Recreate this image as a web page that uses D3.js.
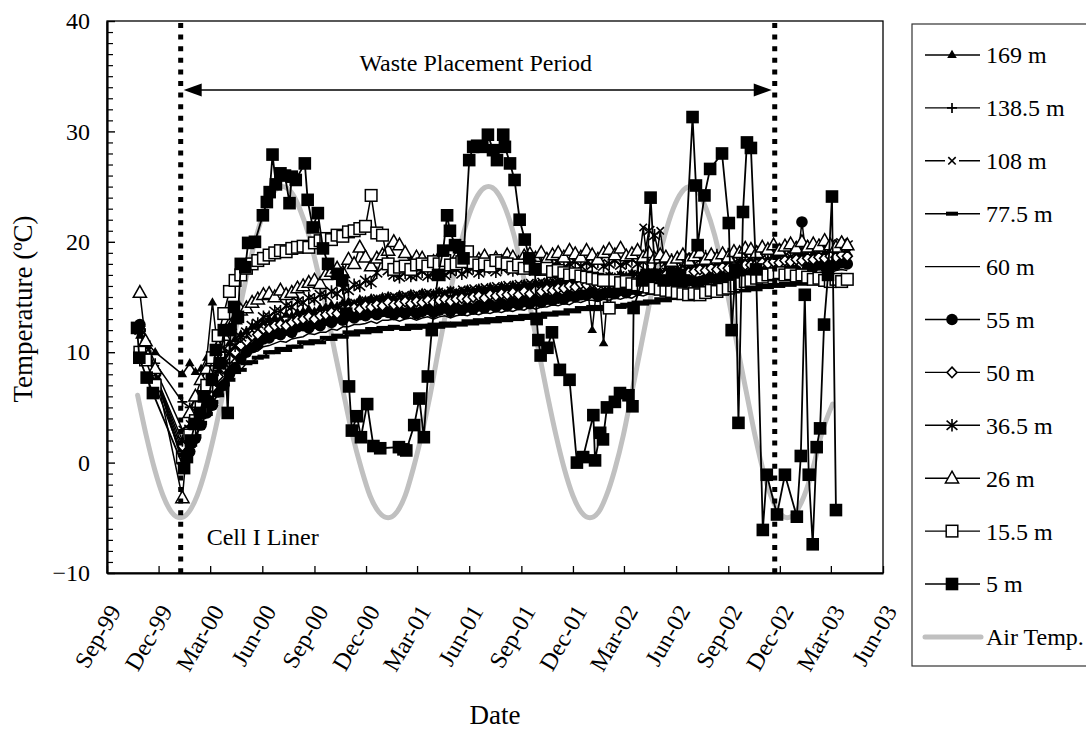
<!DOCTYPE html>
<html><head><meta charset="utf-8">
<script src="https://cdn.jsdelivr.net/npm/d3@7"></script>
<style>
body{margin:0;background:#fff}
svg{display:block}
text{font-family:"Liberation Serif","Times New Roman",serif;fill:#000}
</style>
</head><body>
<svg id="chart" width="1086" height="743"></svg>
<script>
// ---------------- DATA ----------------
const gridDates = ["1999-10-29","1999-11-08","1999-11-25","2000-01-12",
"2000-01-25","2000-02-04","2000-02-14","2000-02-24","2000-03-05","2000-03-15","2000-03-25","2000-04-04","2000-04-14","2000-04-24",
"2000-05-04","2000-05-14","2000-05-24","2000-06-03","2000-06-13","2000-06-23","2000-07-03","2000-07-13","2000-07-23","2000-08-02",
"2000-08-12","2000-08-22","2000-09-01","2000-09-11","2000-09-21","2000-10-01","2000-10-11","2000-10-21","2000-10-31","2000-11-10",
"2000-11-20","2000-11-30","2000-12-10","2000-12-20","2000-12-30",
"2001-01-09","2001-01-19","2001-01-29","2001-02-08","2001-02-18","2001-02-28","2001-03-10","2001-03-20","2001-03-30","2001-04-09",
"2001-04-19","2001-04-29","2001-05-09","2001-05-19","2001-05-29","2001-06-08","2001-06-18","2001-06-28","2001-07-08","2001-07-18",
"2001-07-28","2001-08-07","2001-08-17","2001-08-27","2001-09-06","2001-09-16","2001-09-26","2001-10-06","2001-10-16","2001-10-26",
"2001-11-05","2001-11-15","2001-11-25","2001-12-05","2001-12-15","2001-12-25",
"2002-01-04","2002-01-14","2002-01-24","2002-02-03","2002-02-13","2002-02-23","2002-03-05","2002-03-15","2002-03-25","2002-04-04",
"2002-04-14","2002-04-24","2002-05-04","2002-05-14","2002-05-24","2002-06-03","2002-06-13","2002-06-23","2002-07-03","2002-07-13",
"2002-07-23","2002-08-02","2002-08-12","2002-08-22","2002-09-01","2002-09-11","2002-09-21","2002-10-01","2002-10-11","2002-10-21",
"2002-10-31","2002-11-10","2002-11-20","2002-11-30","2002-12-10","2002-12-20","2002-12-30",
"2003-01-09","2003-01-19","2003-01-29","2003-02-08","2003-02-18","2003-02-28","2003-03-10","2003-03-20","2003-03-30"];

const t169 = [11.5,11.0,10.0,8.0,
 9.0,8.2,8.5,9.5,14.5,10.0,10.2,10.8,11.2,11.6, 11.9,12.3,12.4,12.7,12.9,13.1,13.0,13.4,13.3,13.6,
 13.7,13.9,13.7,14.0,14.1,14.3,14.2,14.5,14.6,14.4, 14.8,14.7,14.9,14.8,15.0,
 15.1,14.9,15.2,15.0,15.3,15.1,15.4,15.2,15.3,15.5, 15.3,15.6,15.4,15.5,15.7,15.5,15.8,15.6,15.9,15.7,
 16.0,15.8,16.1,15.9,16.2,16.0,16.3,16.2,16.4,16.3, 16.5,16.4,16.6,16.6,16.8,16.7,
 12.0,16.9,10.8,17.0,16.8,17.1,16.9,17.2,17.1,17.3, 17.2,17.4,17.3,17.5,17.6,17.5,17.7,17.6,17.8,17.7,
 17.9,17.8,18.0,17.9,18.1,18.0,18.2,18.1,18.3,18.2, 18.4,18.3,18.5,18.4,18.6,18.5,18.7,
 18.8,18.7,18.9,18.8,19.0,18.9,19.1,19.0,19.1];
const t1385 = [12.0,11.0,9.0,5.5,
 5.0,5.8,6.5,7.0,7.5,8.3,9.0,9.8,10.3,10.8, 11.0,11.7,11.8,12.3,12.2,12.6,12.7,12.5,12.9,13.1,
 13.3,13.1,13.4,13.5,13.4,13.8,13.7,14.0,14.2,13.9, 14.3,14.2,14.5,14.3,14.6,
 14.4,14.7,14.5,14.6,14.8,14.5,14.9,14.7,14.8,15.0, 14.8,15.1,14.9,15.0,15.3,15.1,15.3,15.2,15.4,15.2,
 15.5,15.4,15.6,15.4,15.7,15.5,15.8,15.7,15.9,15.8, 16.0,16.1,16.0,16.3,16.2,16.4,
 16.3,16.5,16.3,16.6,16.4,16.7,16.5,16.8,16.7,16.9, 16.9,17.0,17.2,17.1,17.3,17.2,17.4,17.5,17.4,17.6,
 17.5,17.7,17.6,17.8,17.8,17.9,17.8,18.0,18.1,18.0, 18.2,18.2,18.3,18.2,18.4,18.3,18.5,
 18.5,18.6,18.5,18.7,18.6,18.8,18.8,18.9,18.8];
const t108 = [12.5,10.5,8.5,3.0,
 3.5,4.6,5.5,6.3,7.0,7.9,8.6,9.3,9.8,10.3, 10.7,11.1,11.4,11.7,11.9,12.2,12.3,12.6,12.7,13.0,
 13.0,13.3,13.3,13.6,13.6,13.9,13.9,14.2,14.2,14.5, 14.5,14.7,14.7,14.9,14.8,
 15.0,15.1,15.0,15.2,15.1,15.3,15.2,15.4,15.3,15.5, 15.4,15.6,15.5,15.7,15.6,15.8,15.7,15.9,15.8,16.0,
 15.9,16.1,16.0,16.2,16.1,16.3,16.2,16.4,16.3,16.5, 16.4,16.6,16.5,16.7,16.6,16.8,
 16.7,16.8,16.7,16.9,16.8,17.0,16.9,17.1,17.0,21.3, 17.1,17.2,21.0,17.3,17.4,17.4,17.6,17.5,17.7,17.6,
 17.8,17.7,17.9,17.9,18.0,18.1,18.0,18.2,18.1,18.3, 18.2,18.4,18.3,18.5,18.4,18.6,18.6,
 18.7,18.6,18.8,18.7,18.9,18.8,19.0,18.9,19.0];
const t775 = [12.0,10.0,8.0,0.0,
 1.5,2.4,3.6,4.4,5.5,6.1,7.1,7.5,8.2,8.4, 9.0,9.1,9.5,9.6,10.0,10.0,10.3,10.2,10.5,10.5,
 10.9,10.8,11.0,10.9,11.3,11.2,11.5,11.4,11.8,11.6, 11.9,11.8,12.1,11.9,12.2,
 12.1,12.3,12.2,12.1,12.4,12.2,12.4,12.3,12.5,12.3, 12.6,12.4,12.6,12.5,12.8,12.6,12.9,12.7,13.0,12.8,
 13.1,12.9,13.2,13.0,13.3,13.1,13.4,13.2,13.5,13.4, 13.6,13.5,13.8,13.7,14.0,13.9,
 14.1,13.9,14.1,14.0,14.2,14.1,14.3,14.2,14.5,14.4, 14.6,14.5,14.8,14.7,15.0,14.9,15.1,15.0,15.3,15.1,
 15.4,15.3,15.5,15.4,15.6,15.5,15.7,15.6,15.9,15.7, 16.0,15.9,16.1,16.0,16.2,16.1,16.3,
 16.2,16.5,16.3,16.6,16.5,16.7,16.6,16.9,16.7];
const t60 = [12.5,10.0,8.0,1.0,
 2.0,3.2,4.1,5.2,6.0,6.9,7.6,8.4,8.8,9.3, 9.6,10.0,10.1,10.5,10.6,10.8,11.0,10.9,11.2,11.3,
 11.4,11.7,11.6,11.8,11.8,12.1,12.0,12.3,12.3,12.5, 12.5,12.6,12.8,12.6,12.9,
 12.9,13.0,12.8,13.0,13.1,12.9,13.1,13.2,13.0,13.2, 13.3,13.1,13.3,13.4,13.3,13.5,13.4,13.6,13.5,13.7,
 13.6,13.8,13.7,13.9,13.8,14.1,13.9,14.1,14.1,14.3, 14.2,14.4,14.3,14.6,14.5,14.7,
 14.7,14.6,14.8,14.7,14.9,14.8,15.0,14.9,15.2,15.1, 15.3,15.2,15.4,15.4,15.6,15.6,15.8,15.7,15.9,15.9,
 16.0,16.1,16.1,16.2,16.3,16.2,16.4,16.3,16.5,16.4, 16.6,16.6,16.8,16.7,16.9,16.8,17.0,
 16.9,17.1,17.0,17.2,17.3,17.2,17.4,17.5,17.4];
const t55 = [12.5,10.5,8.0,0.5,
 1.0,2.2,3.4,4.5,5.2,6.4,7.0,8.0,8.6,9.4, 10.0,10.4,10.7,11.2,11.3,11.7,11.6,12.0,11.8,12.3,
 12.4,12.2,12.6,12.4,12.9,12.7,13.1,12.9,13.3,13.1, 13.4,13.3,13.6,13.4,13.7,
 13.6,13.4,13.7,13.5,13.8,13.5,13.7,13.9,13.6,13.8, 14.0,13.7,14.0,13.8,14.1,13.9,14.2,14.0,14.3,14.1,
 14.4,14.2,14.5,14.3,14.6,14.4,14.7,14.5,14.8,14.7, 14.9,14.8,15.1,15.0,15.2,15.2,
 15.4,15.1,15.3,15.4,15.3,15.6,15.4,15.7,15.6,15.9, 15.7,16.0,15.9,16.1,16.2,16.3,16.2,16.5,16.4,16.4,
 16.6,16.7,16.6,16.8,16.7,16.9,16.8,17.0,17.1,17.0, 17.2,17.3,17.2,17.4,17.3,17.5,17.4,
 21.8,17.6,17.7,17.9,17.8,18.0,17.9,18.1,18.0];
const t50 = [12.0,10.0,8.0,1.5,
 2.5,3.6,4.6,5.6,6.8,7.8,8.6,9.4,10.0,10.6, 11.0,11.5,11.6,12.1,12.1,12.4,12.5,12.4,12.7,12.9,
 13.0,13.2,13.0,13.3,13.4,13.6,13.5,13.8,13.9,14.0, 13.9,14.2,14.1,14.3,14.2,
 14.5,14.3,14.4,14.6,14.4,14.6,14.5,14.7,14.5,14.7, 14.8,14.6,14.8,14.9,14.8,15.0,15.1,14.9,15.2,15.1,
 15.3,15.2,15.4,15.2,15.5,15.3,15.6,15.5,15.7,15.6, 15.8,15.8,16.0,15.9,16.2,16.1,
 16.3,16.1,16.2,16.4,16.2,16.5,16.3,16.5,16.7,16.6, 16.8,16.7,16.9,17.0,17.1,17.1,17.3,17.2,17.3,17.5,
 17.4,17.6,17.5,17.7,17.6,17.8,17.7,17.9,17.9,18.0, 18.1,18.0,18.2,18.1,18.3,18.2,18.4,
 18.3,18.5,18.4,18.6,18.5,18.7,18.6,18.8,18.7];
const t365 = [12.0,10.0,8.0,2.0,
 3.0,4.2,5.0,6.3,7.2,8.4,9.0,10.0,10.6,11.4, 11.8,12.4,12.6,13.2,13.2,13.7,13.7,14.2,14.1,14.6,
 14.5,14.9,14.8,15.2,15.1,15.5,15.3,15.8,15.6,16.1, 16.0,16.5,16.3,17.2,18.6,
 17.4,17.0,16.8,17.2,16.9,17.0,17.3,16.9,17.1,17.4, 17.0,17.3,17.5,17.1,17.4,17.6,17.2,17.5,17.7,17.3,
 17.6,17.8,17.4,17.7,17.9,17.5,17.8,18.0,17.6,17.9, 18.1,17.7,18.0,18.2,17.8,18.1,
 17.9,18.2,17.8,18.0,18.3,17.9,18.1,18.4,18.0,18.2, 21.0,20.6,18.3,18.1,18.4,18.2,18.5,18.3,18.6,18.4,
 18.7,18.5,18.8,18.6,18.9,18.7,19.0,18.8,19.1,18.9, 19.2,19.0,19.3,19.1,19.4,19.2,19.5,
 19.3,19.6,19.4,19.7,19.5,19.8,19.6,19.9,19.7];
const t26 = [15.4,11.0,8.5,-3.2,
 4.5,6.0,7.5,8.5,9.2,10.5,11.5,12.5,13.0,13.8, 14.0,14.5,14.8,15.2,15.3,15.0,15.6,15.2,15.4,15.8,
 16.0,16.3,16.5,16.2,17.0,17.3,17.6,17.2,18.4,18.0, 19.5,18.6,17.8,18.5,18.8,
 19.2,20.0,19.7,19.0,18.0,18.6,18.5,17.9,18.2,18.6, 18.3,17.8,18.5,18.8,18.2,18.0,18.4,18.7,18.1,18.5,
 18.2,18.8,18.6,18.1,18.7,18.9,18.5,19.0,18.4,18.8, 19.0,18.6,19.2,18.9,18.6,19.2,
 18.8,18.4,19.0,19.3,18.8,19.4,18.7,18.9,19.2,18.6, 19.0,18.5,18.8,18.6,18.2,18.5,18.8,18.3,18.7,19.0,
 18.4,18.8,18.5,18.9,18.6,19.1,19.0,19.4,19.3,19.0, 19.5,19.3,19.7,19.2,19.6,19.8,19.4,
 20.0,19.5,19.8,19.6,20.1,19.7,19.5,19.9,19.7];
const t155 = [10.0,9.3,7.0,0.5,
 2.5,3.8,5.0,7.0,9.5,11.5,13.5,15.5,16.5,17.0, 17.6,18.0,18.3,18.5,18.8,19.0,19.2,19.1,19.4,19.5,
 19.6,19.5,19.9,20.1,20.3,20.2,20.6,20.5,20.9,21.0, 21.2,21.4,24.2,20.8,20.6,
 18.0,17.5,17.7,17.8,17.5,17.9,18.0,17.8,18.2,18.0, 18.3,17.9,18.0,18.2,19.1,18.1,17.9,18.0,17.8,18.3,
 18.1,18.0,17.7,17.9,17.6,17.8,17.7,17.5,17.6,17.3, 17.4,17.2,17.0,17.1,16.9,16.8,
 16.7,16.6,16.5,14.0,16.5,16.3,16.4,16.2,16.1,16.0, 15.9,15.8,15.7,15.6,15.5,15.4,15.3,15.2,15.3,15.2,
 15.4,15.6,15.5,15.7,15.8,16.0,16.2,16.4,16.5,16.7, 16.8,17.0,17.1,17.2,17.0,17.1,16.9,
 17.0,16.8,16.6,16.7,16.5,16.4,16.6,16.4,16.6];

const fiveDates = ["1999-10-24","1999-10-28","1999-11-10","1999-11-21","2000-01-15","2000-01-20","2000-01-27","2000-02-03","2000-02-12","2000-02-19","2000-02-26","2000-03-04","2000-03-11","2000-03-18","2000-03-25","2000-04-01","2000-04-06","2000-04-12","2000-04-19","2000-04-24","2000-05-02","2000-05-07","2000-05-19","2000-06-02","2000-06-09","2000-06-14","2000-06-19","2000-06-25","2000-07-03","2000-07-11","2000-07-19","2000-07-23","2000-07-30","2000-08-15","2000-08-20","2000-08-29","2000-09-07","2000-09-16","2000-09-25","2000-10-12","2000-10-20","2000-10-27","2000-11-01","2000-11-06","2000-11-15","2000-11-22","2000-12-03","2000-12-14","2000-12-26",
"2001-01-28","2001-02-05","2001-02-10","2001-02-24","2001-03-05","2001-03-13","2001-03-20","2001-03-27","2001-04-07","2001-04-16","2001-04-23","2001-04-28","2001-05-07","2001-05-14","2001-05-22","2001-06-01","2001-06-08","2001-06-15","2001-06-24","2001-07-04","2001-07-13","2001-07-20","2001-07-31","2001-08-03","2001-08-12","2001-08-20","2001-08-29","2001-09-07","2001-09-15","2001-09-25","2001-09-28","2001-10-01","2001-10-05","2001-10-17","2001-10-25","2001-11-08","2001-11-25","2001-12-08","2001-12-19",
"2002-01-06","2002-01-09","2002-01-18","2002-01-23","2002-01-30","2002-02-13","2002-02-22","2002-03-09","2002-03-16","2002-03-18","2002-04-02","2002-04-10","2002-04-17","2002-04-25","2002-05-10","2002-05-25","2002-06-08","2002-06-15","2002-06-30","2002-07-06","2002-07-09","2002-07-21","2002-07-31","2002-08-21","2002-09-02","2002-09-07","2002-09-14","2002-09-19","2002-09-27","2002-10-04","2002-10-11","2002-10-20","2002-11-01","2002-11-08","2002-11-26","2002-12-10","2002-12-31",
"2003-01-07","2003-01-14","2003-01-21","2003-01-28","2003-02-04","2003-02-10","2003-02-17","2003-02-24","2003-03-03","2003-03-10"];
const fiveValues = [12.2,9.5,7.7,6.3,-0.5,0.5,2,3.5,4.5,6,5.5,7.5,10.2,9,12,4.5,12,14.1,13.2,18,17.7,19.9,20,22.4,23.6,24.5,27.9,25.2,26.2,26,23.5,25.9,25.6,27.1,23.8,21.3,22.6,19.4,18,17.1,16.5,13.5,6.9,2.9,4.2,2.3,5.3,1.5,1.3,
1.4,1.2,1.1,3.4,5.8,2.3,7.8,12,17,19.2,22.4,21,19.7,19.5,18.5,27.4,28.6,28.7,28.6,29.7,28.3,27.4,29.7,28.6,27.1,25.6,22,20.2,18.5,17.5,13,11.1,9.7,10.4,11.8,8.4,7.5,0,0.5,
4.3,0.2,2.7,2.1,5,5.5,6.3,6.1,5.1,14,16.5,17,24,17,16.5,17,17,16.5,31.3,25.1,19.7,24.2,26.6,28,21.7,12,17.5,3.6,22.7,29,28.5,17.5,-6.1,-1.1,-4.7,-1.1,-4.9,
0.6,15.2,-1.1,-7.4,1.4,3.1,12.5,17,24.1,-4.3];

const airDates = ["1999-10-25","1999-11-09","1999-11-24","1999-12-09","1999-12-24","2000-01-08","2000-01-23","2000-02-07","2000-02-22","2000-03-08","2000-03-23","2000-04-07","2000-04-22","2000-05-07","2000-05-22","2000-06-06","2000-06-21","2000-07-06",
"2000-07-22","2000-08-06","2000-08-22","2000-09-06","2000-09-22","2000-10-07","2000-10-23","2000-11-07","2000-11-23","2000-12-08","2000-12-24","2001-01-09",
"2001-01-24","2001-02-08","2001-02-22","2001-03-09","2001-03-24","2001-04-07","2001-04-22","2001-05-07","2001-05-21","2001-06-05","2001-06-20","2001-07-05",
"2001-07-20","2001-08-04","2001-08-19","2001-09-02","2001-09-17","2001-10-02","2001-10-17","2001-11-01","2001-11-16","2001-12-01","2001-12-16","2001-12-31",
"2002-01-15","2002-01-29","2002-02-13","2002-02-28","2002-03-14","2002-03-29","2002-04-13","2002-04-27","2002-05-12","2002-05-27","2002-06-11","2002-06-26",
"2002-07-10","2002-07-24","2002-08-08","2002-08-22","2002-09-05","2002-09-19","2002-10-04","2002-10-18","2002-11-01","2002-11-15","2002-11-30","2002-12-14",
"2002-12-29","2003-01-13","2003-01-28","2003-02-12","2003-03-04"];
const airValues = [6.1,2.5,-0.6,-3,-4.5,-5,-4.5,-3,-0.6,2.5,6.1,10,13.9,17.5,20.6,23,24.5,25,
24.5,23,20.6,17.5,13.9,10,6.1,2.5,-0.6,-3,-4.5,-5,
-4.5,-3,-0.6,2.5,6.1,10,13.9,17.5,20.6,23,24.5,25,
24.5,23,20.6,17.5,13.9,10,6.1,2.5,-0.6,-3,-4.5,-5,
-4.5,-3,-0.6,2.5,6.1,10,13.9,17.5,20.6,23,24.5,25,
24.5,23,20.6,17.5,13.9,10,6.1,2.5,-0.6,-3,-4.5,-5,
-4.5,-3,-0.6,2.5,5.3];

const xTickDates = ["1999-09-01","1999-12-01","2000-03-01","2000-06-01","2000-09-01","2000-12-01","2001-03-01","2001-06-01","2001-09-01","2001-12-01","2002-03-01","2002-06-01","2002-09-01","2002-12-01","2003-03-01","2003-06-01"];
const yTickValues = [-10,0,10,20,30,40];
const seriesNames = ["169 m","138.5 m","108 m","77.5 m","60 m","55 m","50 m","36.5 m","26 m","15.5 m","5 m","Air Temp."];
const eventDates = ["2000-01-09","2002-11-22"];

// ---------------- CHART ----------------
const parse = d3.timeParse("%Y-%m-%d");
const svg = d3.select("#chart");
const L = 107, R = 883, T = 21, B = 573;
const x = d3.scaleTime().domain([parse("1999-09-01"), parse("2003-06-01")]).range([L, R]);
const y = d3.scaleLinear().domain([-10, 40]).range([B, T]);

svg.append("rect").attr("width",1086).attr("height",743).attr("fill","#fff");

const markers = {
  triFilled: g => g.append("path").attr("d","M0,-5.2L4.8,3L-4.8,3Z").attr("fill","#000"),
  plus: g => g.append("path").attr("d","M-5,0H5M0,-5V5").attr("stroke","#000").attr("stroke-width",1.7).attr("fill","none"),
  cross: g => g.append("path").attr("d","M-3.7,-3.7L3.7,3.7M-3.7,3.7L3.7,-3.7").attr("stroke","#000").attr("stroke-width",1.6).attr("fill","none"),
  dash: g => g.append("rect").attr("x",-6).attr("y",-2).attr("width",12).attr("height",4).attr("fill","#000"),
  none: g => g,
  circle: g => g.append("circle").attr("r",5.8).attr("fill","#000"),
  diamond: g => g.append("path").attr("d","M0,-5.3L5,0L0,5.3L-5,0Z").attr("fill","#fff").attr("stroke","#000").attr("stroke-width",1.6),
  star: g => g.append("path").attr("d","M0,-6.3V6.3M-5.4,-4.6L5.4,4.6M-5.4,4.6L5.4,-4.6").attr("stroke","#000").attr("stroke-width",1.6).attr("fill","none"),
  triOpen: g => g.append("path").attr("d","M0,-7L6.6,4.7L-6.6,4.7Z").attr("fill","#fff").attr("stroke","#000").attr("stroke-width",1.5),
  sqOpen: g => g.append("rect").attr("x",-5.8).attr("y",-5.8).attr("width",11.6).attr("height",11.6).attr("fill","#fff").attr("stroke","#000").attr("stroke-width",1.5),
  sqFilled: g => g.append("rect").attr("x",-6.3).attr("y",-6.3).attr("width",12.6).attr("height",12.6).attr("fill","#000")
};

const gridSeries = [
  {name:seriesNames[0], vals:t169, mk:"triFilled"},
  {name:seriesNames[1], vals:t1385, mk:"plus"},
  {name:seriesNames[2], vals:t108, mk:"cross"},
  {name:seriesNames[3], vals:t775, mk:"dash"},
  {name:seriesNames[4], vals:t60, mk:"none"},
  {name:seriesNames[5], vals:t55, mk:"circle"},
  {name:seriesNames[6], vals:t50, mk:"diamond"},
  {name:seriesNames[7], vals:t365, mk:"star"},
  {name:seriesNames[8], vals:t26, mk:"triOpen"},
  {name:seriesNames[9], vals:t155, mk:"sqOpen"}
];
const allSeries = gridSeries.map(s => ({
  name:s.name, mk:s.mk,
  pts: s.vals.slice(0, gridDates.length).map((v,i)=>({d:parse(gridDates[i]), v}))
}));
allSeries.push({name:seriesNames[10], mk:"sqFilled",
  pts: fiveValues.slice(0, fiveDates.length).map((v,i)=>({d:parse(fiveDates[i]), v}))});

const plot = svg.append("g");

// Air temperature (underneath)
const airPts = airValues.slice(0, airDates.length).map((v,i)=>({d:parse(airDates[i]), v}));
plot.append("path").datum(airPts)
  .attr("fill","none").attr("stroke","#c0c0c0").attr("stroke-width",5).attr("stroke-linecap","round")
  .attr("d", d3.line().x(d=>x(d.d)).y(d=>y(d.v)).curve(d3.curveMonotoneX));

const line = d3.line().x(d=>x(d.d)).y(d=>y(d.v));
allSeries.forEach(s=>{
  const g = plot.append("g");
  g.append("path").datum(s.pts).attr("fill","none").attr("stroke","#000")
    .attr("stroke-width", s.mk==="sqFilled"?1.8:1.5).attr("d", line);
  g.selectAll("g.pt").data(s.pts).join("g").attr("class","pt")
    .attr("transform", d=>`translate(${x(d.d)},${y(d.v)})`)
    .each(function(){ markers[s.mk](d3.select(this)); });
});

// event dotted lines
eventDates.forEach(ed=>{
  svg.append("line").attr("x1",x(parse(ed))).attr("x2",x(parse(ed)))
    .attr("y1",y(40)+2).attr("y2",y(-10))
    .attr("stroke","#000").attr("stroke-width",5).attr("stroke-dasharray","5,6.6");
});

// Arrow: waste placement period
const ax1 = x(parse(eventDates[0]))+3, ax2 = x(parse(eventDates[1]))-3, ay = y(33.75);
svg.append("line").attr("x1",ax1+14).attr("x2",ax2-14).attr("y1",ay).attr("y2",ay).attr("stroke","#000").attr("stroke-width",1.4);
svg.append("path").attr("d",`M${ax1},${ay}L${ax1+18},${ay-6.5}L${ax1+18},${ay+6.5}Z`).attr("fill","#000");
svg.append("path").attr("d",`M${ax2},${ay}L${ax2-18},${ay-6.5}L${ax2-18},${ay+6.5}Z`).attr("fill","#000");
svg.append("text").attr("x",(ax1+ax2)/2 - 2).attr("y",ay-19).attr("text-anchor","middle")
  .style("font-size","24px").text("Waste Placement Period");
svg.append("text").attr("x",x(parse(eventDates[0]))+26).attr("y",545)
  .style("font-size","24px").text("Cell I Liner");

// plot frame
svg.append("rect").attr("x",L).attr("y",T).attr("width",R-L).attr("height",B-T)
  .attr("fill","none").attr("stroke","#000").attr("stroke-width",1.3);

// Y axis
const yMinor = d3.range(-10, 41, 1).filter(v=>v%10!==0);
const yMinorAxis = svg.append("g").attr("transform",`translate(${L},0)`)
  .call(d3.axisLeft(y).tickValues(yMinor).tickSizeInner(-6).tickSizeOuter(0).tickFormat(""));
yMinorAxis.select(".domain").remove();
yMinorAxis.selectAll("line").attr("stroke-width",1.2);
const yAxis = svg.append("g").attr("transform",`translate(${L},0)`)
  .call(d3.axisLeft(y).tickValues(yTickValues).tickSizeInner(-8).tickSizeOuter(0).tickPadding(17));
yAxis.select(".domain").attr("stroke-width",2.2);
yAxis.selectAll("line").attr("stroke-width",1.4);
yAxis.selectAll("text").style("font-size","24px").style("font-family","Liberation Serif");

// X axis
const xAxis = svg.append("g").attr("transform",`translate(0,${B})`)
  .call(d3.axisBottom(x).tickValues(xTickDates.map(parse)).tickSizeInner(-7).tickSizeOuter(0)
    .tickFormat(d3.timeFormat("%b-%y")));
xAxis.select(".domain").attr("stroke-width",2.2);
xAxis.selectAll("line").attr("stroke-width",1.3);
xAxis.selectAll("text")
  .style("font-size","24px").style("font-family","Liberation Serif")
  .attr("text-anchor","end").attr("dy","0.35em").attr("y",0)
  .attr("transform","translate(7,34) rotate(-60)");

// Axis titles
svg.append("text").attr("transform","translate(32,309) rotate(-90)").attr("text-anchor","middle")
  .style("font-size","27px").text("Temperature (ºC)");
svg.append("text").attr("x",(L+R)/2).attr("y",724).attr("text-anchor","middle")
  .style("font-size","27px").text("Date");

// Legend
const lg = svg.append("g");
lg.append("rect").attr("x",912).attr("y",24).attr("width",200).attr("height",642)
  .attr("fill","#fff").attr("stroke","#333").attr("stroke-width",1.2);
const legendMk = ["triFilled","plus","cross","dash","none","circle","diamond","star","triOpen","sqOpen","sqFilled","air"];
seriesNames.forEach((nm,i)=>{
  const cy = 55 + i*52.9;
  const row = lg.append("g").attr("transform",`translate(0,${cy})`);
  if (legendMk[i]==="air") {
    row.append("line").attr("x1",925).attr("x2",981).attr("stroke","#c0c0c0").attr("stroke-width",5).attr("stroke-linecap","round");
  } else {
    row.append("line").attr("x1",925).attr("x2",980).attr("stroke","#000").attr("stroke-width",1.4);
    const mg = row.append("g").attr("transform","translate(952,0)");
    if (legendMk[i]==="cross") mg.append("rect").attr("x",-7).attr("y",-5).attr("width",14).attr("height",10).attr("fill","#fff");
    markers[legendMk[i]](mg);
  }
  row.append("text").attr("x",986).attr("y",0).attr("dy","0.35em").style("font-size","24px").text(nm);
});
</script>
</body></html>
